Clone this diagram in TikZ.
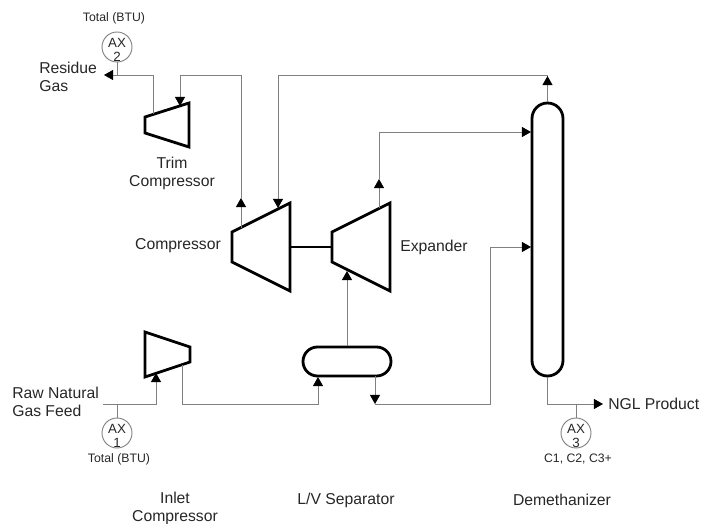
\documentclass[tikz,border=0pt]{standalone}
\usepackage{fontspec}
\setmainfont{Liberation Sans}
\usetikzlibrary{arrows.meta}
\usetikzlibrary{shapes.misc}

\tikzset{
  machine/.style={draw=black, line width=2.1pt, line join=miter},
  vessel/.style={draw=black, line width=2.1pt, rounded rectangle, inner sep=0pt},
  pipe/.style={draw=black!50, line width=0.7pt},
  flow/.style={pipe, -{Triangle[color=black, length=6.8pt, width=7.5pt]}},
  tag/.style={draw=black!50, line width=0.7pt, circle, inner sep=0pt, minimum size=22.5pt},
  tagtext/.style={text=black!85, font=\fontsize{10}{10.5}\selectfont, align=center, inner sep=0pt},
  unitlabel/.style={text=black!85, font=\fontsize{11.8}{13.5}\selectfont, inner sep=0pt},
  smalllabel/.style={text=black!85, font=\fontsize{9.2}{10}\selectfont, inner sep=0pt}
}

\begin{document}
\begin{tikzpicture}[x=0.75pt, y=-0.75pt]
\useasboundingbox (0,0) rectangle (701,524);

\draw[machine] (145,117) -- (189,103) -- (189,147) -- (145,133) -- cycle;
\draw[machine] (232,232) -- (290,203) -- (290,291) -- (232,262) -- cycle;
\draw[machine] (332,232) -- (390,203) -- (390,291) -- (332,262) -- cycle;
\draw[machine] (145,332) -- (190,347) -- (190,362) -- (145,377) -- cycle;

\coordinate (compright) at (290,247);
\coordinate (expleft) at (332,247);
\draw[machine] (compright) -- (expleft);

\node[vessel, minimum width=66pt, minimum height=21.75pt] (sep) at (347,361.5) {};
\node[vessel, rotate=90, minimum width=204.75pt, minimum height=23.25pt] (col) at (547.5,239.5) {};

\node[tag] (ax2) at (117,47) {};
\node[tag] (ax1) at (117,433) {};
\node[tag] (ax3) at (576,433) {};
\node[tagtext] (ax2text) at (117,50) {AX\\2};
\node[tagtext] (ax1text) at (117,436) {AX\\1};
\node[tagtext] (ax3text) at (576,436) {AX\\3};

\coordinate (trimout) at (153,114);
\coordinate (residuetap) at (117,75);
\coordinate (residue) at (104,75);
\draw[flow] (trimout) -- (153,75) -- (residue);
\draw[pipe] (ax2) -- (residuetap);

\coordinate (compout) at (241,228);
\coordinate (compmid) at (241,198);
\coordinate (trimin) at (180,106);
\draw[flow] (compout) -- (compmid);
\draw[flow] (compmid) -- (241,75) -- (180,75) -- (trimin);

\coordinate (coltop) at (547.5,76);
\coordinate (compin) at (278,208);
\draw[flow] (col.east) -- (coltop);
\draw[flow] (coltop) -- (547.5,75) -- (278,75) -- (compin);

\coordinate (expout) at (379,208);
\coordinate (expmid) at (379,179);
\coordinate (colinup) at (531,132);
\draw[flow] (expout) -- (expmid);
\draw[flow] (expmid) -- (379,132) -- (colinup);

\coordinate (feed) at (103,404);
\coordinate (feedtap) at (117,404);
\coordinate (inletin) at (156,373);
\draw[flow] (feed) -- (156,404) -- (inletin);
\draw[pipe] (ax1) -- (feedtap);

\coordinate (inletout) at (182,365);
\coordinate (sepin) at (318,377);
\draw[flow] (inletout) -- (182,404) -- (318,404) -- (sepin);

\coordinate (expin) at (347,271);
\draw[flow] (sep.north) -- (expin);

\coordinate (sepout) at (375,376);
\coordinate (sepdown) at (375,404);
\coordinate (colinlow) at (531,247);
\draw[flow] (sepout) -- (sepdown);
\draw[pipe] (sepdown) -- (490,404) -- (490,247);
\draw[flow] (490,247) -- (colinlow);

\coordinate (ngl) at (603,404);
\coordinate (ngltap) at (576,404);
\draw[flow] (col.west) -- (547.5,404) -- (ngl);
\draw[pipe] (ax3) -- (ngltap);

\node[smalllabel] (btutop) at (114,18) {Total (BTU)};
\node[smalllabel] (btulow) at (119,459) {Total (BTU)};
\node[smalllabel] (cthree) at (578,459) {C1, C2, C3+};
\node[unitlabel, align=left, anchor=west] (residuelabel) at (39,77) {Residue\\Gas};
\node[unitlabel, align=left, anchor=west] (rawlabel) at (12,402) {Raw Natural\\Gas Feed};
\node[unitlabel, align=center] (trimlabel) at (172,173) {Trim\\Compressor};
\node[unitlabel] (complabel) at (178,246) {Compressor};
\node[unitlabel] (explabel) at (434,247) {Expander};
\node[unitlabel, anchor=west] (ngllabel) at (608,404) {NGL Product};
\node[unitlabel, align=center] (inletlabel) at (175,508) {Inlet\\Compressor};
\node[unitlabel] (seplabel) at (346,500) {L/V Separator};
\node[unitlabel] (demlabel) at (562,500) {Demethanizer};
\end{tikzpicture}
\end{document}
